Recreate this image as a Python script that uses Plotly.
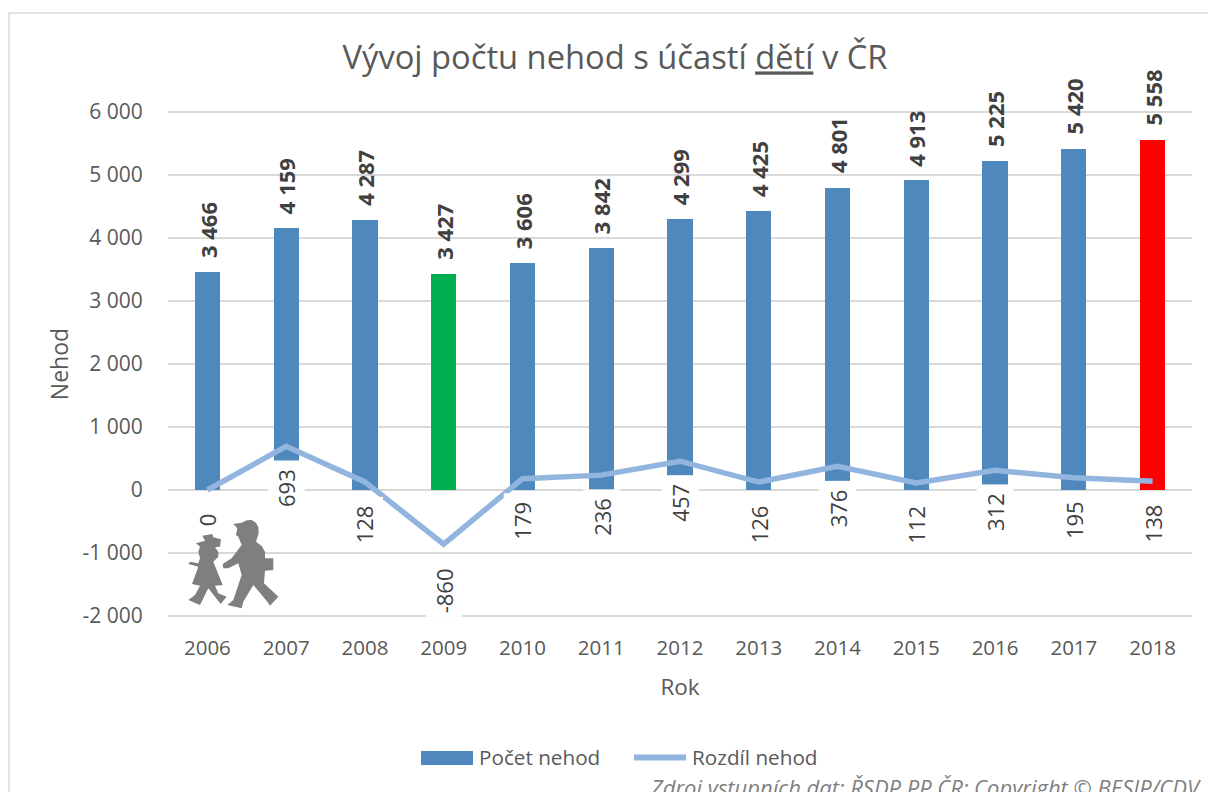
import plotly.graph_objects as go

years = ["2006","2007","2008","2009","2010","2011","2012","2013","2014","2015","2016","2017","2018"]
accidents = [3466,4159,4287,3427,3606,3842,4299,4425,4801,4913,5225,5420,5558]
differences = [0,693,128,-860,179,236,457,126,376,112,312,195,138]
bar_colors = ["#4F88BD","#4F88BD","#4F88BD","#00B050"] + ["#4F88BD"]*8 + ["#FF0000"]
y_ticks = [-2000,-1000,0,1000,2000,3000,4000,5000,6000]

FONT = "Open Sans"
GREY = "#595959"
LINE = "#92B5DF"
W, H = 1208, 792
L, R, T, B = 168, 16, 110, 174

def fmt(v):
    s = f"{abs(v):,}".replace(",", "\u00a0")
    return ("-" if v < 0 else "") + s

def px(x, y):
    return (x - L) / (W - L - R), 1 - (y - T) / (H - T - B)

def icon_path(points):
    coords = [px(150 + a / 3, 420 + b / 3) for a, b in points]
    return "M" + " L".join(f"{x:.5f},{y:.5f}" for x, y in coords) + " Z"

boy = [(250,312),(275,308),(290,301),(305,300),(318,308),(325,322),(326,340),(318,365),(335,378),(345,395),(345,415),(370,415),(370,450),
       (345,452),(342,490),(385,530),(360,557),(352,545),(310,495),(280,545),(275,565),(232,555),(250,540),
       (270,480),(275,465),(265,430),(235,445),(220,445),(218,432),(245,415),(275,375),(265,350),(258,345),(262,325)]
girl = [(157,347),(187,342),(190,352),(213,358),(210,380),(195,382),(205,395),(205,410),(190,425),(218,495),
        (195,497),(205,520),(230,530),(212,552),(175,505),(150,555),(115,540),(135,525),(150,497),(126,492),
        (145,440),(115,432),(120,425),(145,430),(150,415),(145,395),(150,380),(138,370),(165,362)]

fig = go.Figure()
fig.add_bar(x=years, y=accidents, marker_color=bar_colors, marker_line_width=0, width=0.32, showlegend=False)
fig.add_scatter(x=years, y=differences, mode="lines", line=dict(color=LINE, width=5.5), showlegend=False)

ann = []
for i, v in enumerate(accidents):
    ann.append(dict(x=i, y=v, xref="x", yref="y", text=f"<b>{fmt(v)}</b>", textangle=-90, showarrow=False, yanchor="bottom",
                    yshift=12, font=dict(size=22, color="#404040", family=FONT)))
for i, v in enumerate(differences):
    ann.append(dict(x=i, y=v, xref="x", yref="y", text=fmt(v) + "\u00a0", textangle=-90, showarrow=False, yanchor="top", yshift=-14,
                    bgcolor="white", borderpad=3, font=dict(size=22, color="#404040", family=FONT)))

def page_text(x, y, text, size, color=GREY, anchor="left", italic=False):
    fx, fy = px(x, y)
    return dict(x=fx, y=fy, xref="paper", yref="paper", text=text, showarrow=False, xanchor=anchor, yanchor="middle",
                font=dict(size=size, color=color, family=FONT, style="italic" if italic else "normal"))

ann += [
    page_text(477, 757, "Počet nehod", 20.7),
    page_text(690, 757, "Rozdíl nehod", 20.7),
    page_text(1204, 787, "Zdroj vstupních dat: ŘSDP PP ČR; Copyright © BESIP/CDV", 22, "#7F7F7F", "right", True),
]

shapes = [
    dict(type="rect", xref="paper", yref="paper", layer="below",
         x0=px(9, 0)[0], x1=px(1230, 0)[0], y0=px(0, 13)[1], y1=px(0, 830)[1],
         line=dict(color="#D9D9D9", width=1.5), fillcolor="white"),
    dict(type="path", path=icon_path(boy), xref="paper", yref="paper", fillcolor="#7F7F7F", line_width=0),
    dict(type="path", path=icon_path(girl), xref="paper", yref="paper", fillcolor="#7F7F7F", line_width=0),
    dict(type="rect", xref="paper", yref="paper", x0=px(421, 0)[0], x1=px(473, 0)[0], y0=px(0, 751)[1], y1=px(0, 765)[1],
         fillcolor="#4F88BD", line_width=0),
    dict(type="line", xref="paper", yref="paper", x0=px(634, 0)[0], x1=px(686, 0)[0], y0=px(0, 757.5)[1], y1=px(0, 757.5)[1],
         line=dict(color=LINE, width=6)),
]

fig.update_layout(
    width=W, height=H, margin=dict(l=L, r=R, t=T, b=B),
    paper_bgcolor="white", plot_bgcolor="white", bargap=0,
    title=dict(text="Vývoj počtu nehod s účastí <u>dětí</u> v ČR", x=615 / W, xanchor="center", y=1 - 58 / H, yanchor="middle",
               font=dict(size=32.7, color=GREY, family=FONT)),
    font=dict(family=FONT, color=GREY),
    xaxis=dict(type="category", range=[-0.5, 12.5], showgrid=False, showline=False, zeroline=False,
               ticks="outside", ticklen=11, tickcolor="rgba(0,0,0,0)",
               tickfont=dict(size=20.5, color=GREY), title=dict(text="Rok", font=dict(size=22.5, color=GREY), standoff=19),
               anchor="free", position=0),
    yaxis=dict(range=[-2032, 6032], tickvals=y_ticks, ticktext=[fmt(v) for v in y_ticks], gridcolor="#D9D9D9", gridwidth=1.5,
               zeroline=True, zerolinecolor="#D9D9D9", zerolinewidth=1.5, showline=False,
               ticks="outside", ticklen=20, tickcolor="rgba(0,0,0,0)",
               tickfont=dict(size=21, color=GREY), title=dict(text="Nehod", font=dict(size=23, color=GREY), standoff=7)),
    annotations=ann, shapes=shapes,
)
fig.write_html("out.html", config=dict(displayModeBar=False),
               post_script="document.body.style.margin='0';document.body.style.overflow='hidden';")
